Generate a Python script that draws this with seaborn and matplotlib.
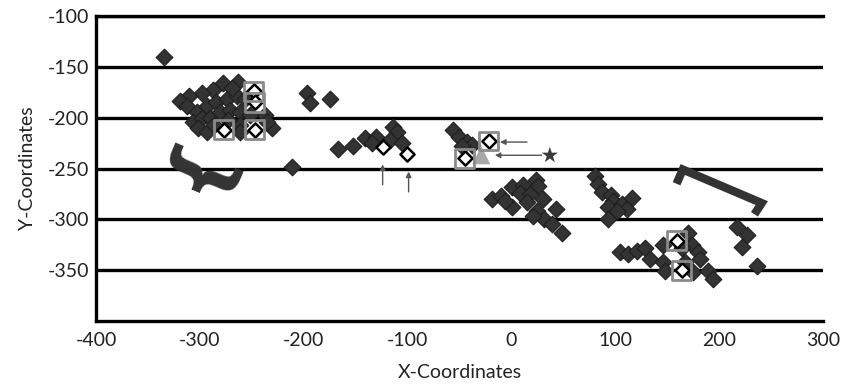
import matplotlib
matplotlib.use("Agg")
import matplotlib.pyplot as plt
import seaborn as sns
import pandas as pd
from matplotlib.lines import Line2D

# --- measured positions (x, y) ---------------------------------------------
cluster_x = [
    # west group
    -335, -278, -263, -287, -298, -310, -319, -312, -303, -293, -284, -274,
    -264, -307, -298, -290, -281, -271, -261, -302, -293, -261, -261, -237,
    -231, -235, -286, -273, -252, -257, -269,
    -197, -194, -175, -211,
    # central ridge
    -167, -153, -141, -130, -114, -110, -117, -105, -134,
    -56, -50, -43, -38, -48,
    # middle group
    -19, -10, 1, 11, 24, 26, 8, 18, 30, 1, 15, 25, 31, 43, 39, 49, 21, -6,
    # eastern slope
    80, 83, 87, 96, 98, 93, 106, 116, 111, 93, 102,
    # south-east group
    105, 112, 121, 129, 133, 146, 146, 148, 170, 174, 180, 182, 175, 189,
    194, 164, 167, 217, 227, 222, 236,
]
cluster_y = [
    -140, -166, -165, -173, -176, -179, -184, -189, -194, -189, -185, -182,
    -179, -204, -200, -200, -194, -192, -194, -210, -214, -207, -214, -197,
    -210, -204, -207, -202, -197, -182, -171,
    -176, -186, -182, -249,
    -231, -228, -220, -219, -209, -214, -222, -225, -225,
    -212, -219, -224, -227, -228,
    -280, -277, -268, -266, -261, -267, -274, -275, -280, -288, -283, -292,
    -300, -290, -305, -313, -297, -282,
    -257, -265, -273, -276, -282, -288, -285, -279, -290, -300, -292,
    -332, -334, -331, -328, -339, -325, -342, -351, -313, -325, -332, -339,
    -352, -351, -359, -328, -342, -308, -315, -327, -346,
]

# selected points (open diamonds) and the ones that are boxed
open_x = [-248, -247, -277, -247, -124, -101, -22, -45, 159, 164]
open_y = [-174, -185, -212, -212, -229, -236, -223, -240, -321, -350]
boxed_x = [-248, -247, -277, -247, -22, -45, 159, 164]
boxed_y = [-174, -185, -212, -212, -223, -240, -321, -350]

# reference markers
triangle_xy = (-29, -237)
star_xy = (37, -237)

# annotation arrows: (tail, head)
arrows = [
    ((-124, -266), (-124, -246)),
    ((-99, -273), (-99, -253)),
    ((15, -224), (-11, -224)),
    ((29, -237), (-16, -237)),
]
bracket_x = [159, 165, 241, 234]
bracket_y = [-265, -251, -284, -295]
brace_xy = (-301, -247)

x_ticks = [-400, -300, -200, -100, 0, 100, 200, 300]
y_ticks = [-350, -300, -250, -200, -150, -100]

# --- drawing -----------------------------------------------------------------
sns.set_theme(style="white")
plt.rcParams["font.family"] = ["Lato", "DejaVu Sans"]
plt.rcParams["axes.unicode_minus"] = False

fig = plt.figure(figsize=(8.5, 3.9), dpi=100)
ax = fig.add_axes([96 / 850, 1 - 321 / 390, 727 / 850, 305 / 390])

dark = "#333333"
pts = pd.DataFrame({"x": cluster_x, "y": cluster_y})
sns.scatterplot(data=pts, x="x", y="y", marker="D", s=72, color=dark,
                edgecolor="#1e1e1e", linewidth=0.8, ax=ax, zorder=3)

sel = pd.DataFrame({"x": open_x, "y": open_y})
sns.scatterplot(data=sel, x="x", y="y", marker="D", s=52, color="white",
                edgecolor="black", linewidth=1.8, ax=ax, zorder=4)

box = pd.DataFrame({"x": boxed_x, "y": boxed_y})
sns.scatterplot(data=box, x="x", y="y", marker="s", s=185,
                facecolor="none", edgecolor="#8a8a8a", linewidth=2.0,
                ax=ax, zorder=5)

ax.scatter([triangle_xy[0]], [triangle_xy[1]], marker="^", s=170,
           color="#a8a8a8", edgecolor="none", zorder=4)
ax.scatter([star_xy[0]], [star_xy[1]], marker="*", s=150,
           color="#3a3a3a", edgecolor="none", zorder=4)

for tail, head in arrows:
    ax.annotate("", xy=head, xytext=tail,
                arrowprops=dict(arrowstyle="-|>", color="#555555", lw=1.0,
                                mutation_scale=8, shrinkA=0, shrinkB=0),
                zorder=6)

ax.add_line(Line2D(bracket_x, bracket_y, color=dark, lw=6,
                   solid_joinstyle="miter", solid_capstyle="butt", zorder=3))
ax.text(brace_xy[0], brace_xy[1], "{", rotation=67, fontsize=58,
        fontweight="bold", color=dark, ha="center", va="center",
        family="DejaVu Sans", zorder=3)

ax.set_xlim(-400, 300)
ax.set_ylim(-400, -100)
ax.set_xticks(x_ticks)
ax.set_yticks(y_ticks)
ax.yaxis.grid(True, color="black", lw=2.4)
ax.xaxis.grid(False)
ax.set_axisbelow(True)

for side in ["left", "bottom", "top"]:
    ax.spines[side].set_visible(True)
    ax.spines[side].set_color("black")
    ax.spines[side].set_linewidth(2.4)
ax.spines["right"].set_visible(False)

ax.tick_params(axis="both", length=0, labelsize=14, colors="#222222")
ax.tick_params(axis="y", pad=5)
ax.tick_params(axis="x", pad=8)
ax.set_xlabel("X-Coordinates", fontsize=14, color="#222222", labelpad=11)
ax.set_ylabel("Y-Coordinates", fontsize=14, color="#222222", labelpad=8)

fig.savefig("out.png", dpi=100)
